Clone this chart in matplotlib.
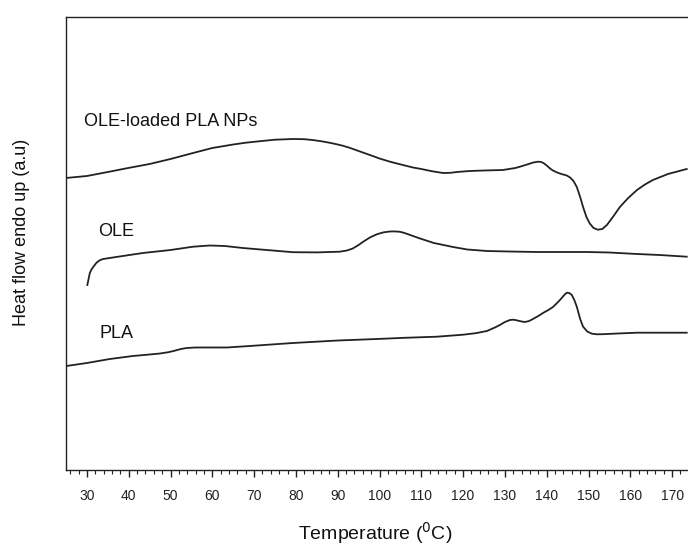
import matplotlib
matplotlib.use("Agg")
import matplotlib.pyplot as plt
from matplotlib.ticker import MultipleLocator

plt.rcParams['font.family'] = ['Liberation Sans', 'DejaVu Sans']

# OLE-loaded PLA NPs (temperature, heat flow a.u.)
t_np = [25.0, 30, 35, 39.5, 45, 50, 55.4, 60, 65, 68, 71.4, 75, 79.3, 82, 84, 86, 88, 90, 91.2, 93,
        95, 97.7, 100, 102.5, 105.6, 108, 110, 112.5, 115.2, 117, 118.5, 121.6, 125, 129.5, 132.5,
        134, 135.3, 136.8, 137.9, 138.7, 139.4, 140, 140.8, 141.5, 142.5, 143.5, 144.8, 145.6,
        146.4, 147.2, 148, 148.7, 149.5, 150.3, 151.2, 152.2, 153.3, 154.4, 156, 157.5, 159.5,
        161.6, 163.5, 165.4, 169, 173.5]
h_np = [292, 294, 298, 301.7, 306, 311, 317, 322, 325.5, 327.3, 328.8, 330.3, 331, 330.8, 330, 328.8,
        327.3, 325.5, 324.3, 322, 319, 315, 311.5, 308.3, 305, 302.5, 301, 298.8, 297, 297.2, 298, 299, 299.5,
        300, 302, 303.8, 305.5, 307.5, 308.3, 308, 306.5, 304.5, 301.5, 299.5, 297.5, 296, 294.5, 292.5,
        289, 283, 273, 263, 253, 246.5, 242, 240.3, 241, 245, 254, 263, 272,
        280, 285.5, 290, 296, 301]

# OLE
t_ole = [30.1, 30.4, 30.7, 31.1, 31.5, 32.3, 33.1, 33.9, 37, 43.4, 50, 55.4, 59.4, 63, 67.3, 73,
         79.3, 85, 90.5, 92.2, 93.6, 95, 96, 97.7, 99.4, 101, 102.5, 103.7, 104.9, 106, 107,
         109.7, 113, 117.6, 121, 125.7, 131, 137.7, 143, 149.6, 155, 161.6, 167, 173.5]
h_ole = [185, 191, 197, 200.5, 203, 207.3, 209.8, 211, 213, 217, 220, 223.3, 224.5, 224, 222, 220,
         217.8, 217.6, 218.3, 219.5, 221.5, 225, 228, 232.5, 235.8, 237.7, 238.5, 238.6, 238.2, 237, 235.5,
         231.5, 227, 223, 220.5, 219, 218.5, 218, 218, 218, 217.5, 216, 215, 213.3]

# PLA
t_pla = [25.1, 30, 35.5, 41, 45, 47.5, 49.5, 51, 52.5, 53.9, 56, 58, 63.5, 70, 79.3, 90, 99.4,
         106, 113.7, 120, 123, 125.7, 127.5, 128.8, 130, 131.2, 132.1, 132.9, 134, 134.8, 135.8,
         136.7, 138, 139.1, 140.4, 141.5, 142.6, 143.6, 144.3, 144.8, 145.4, 146, 146.6, 147.2,
         148, 148.7, 149.7, 150.8, 152, 153.4, 157, 161.6, 167, 173.5]
h_pla = [104, 107, 111, 114, 115.5, 116.5, 117.8, 119.3, 121, 122, 122.5, 122.5, 122.5, 124.3, 127,
         129.5, 131, 132.2, 133.3, 135.3, 136.8, 139, 142.3, 145, 148, 150, 150.3, 149.6, 148.5,
         148, 149, 151, 154, 157, 160, 163, 167.5, 172, 175.5, 177.3, 177, 175, 170, 163.3, 151,
         143.3, 138.5, 136.3, 135.7, 135.8, 136.5, 137.3, 137.3, 137.3]

series_labels = ["OLE-loaded PLA NPs", "OLE", "PLA"]
x_ticks = list(range(30, 171, 10))

fig = plt.figure(figsize=(6.88, 5.47), dpi=100)
ax = fig.add_axes([66/688, 77/547, (688-66)/688, (470-17)/547])

lc = '#222222'
for t, h in [(t_np, h_np), (t_ole, h_ole), (t_pla, h_pla)]:
    ax.plot(t, h, color=lc, lw=1.3, solid_joinstyle='round')

ax.set_xlim(25, 173.8)
ax.set_ylim(0, 453)
ax.set_xticks(x_ticks)
ax.xaxis.set_minor_locator(MultipleLocator(2))
ax.set_yticks([])
ax.tick_params(axis='x', which='major', direction='out', length=5, width=1, labelsize=10, pad=9,
               colors='#222222')
ax.tick_params(axis='x', which='minor', direction='out', length=3, width=0.8, colors='#222222')
ax.spines['right'].set_visible(False)
for s in ['left', 'top', 'bottom']:
    ax.spines[s].set_linewidth(1.0)
    ax.spines[s].set_color('#222222')

ax.text(29.3, 348, series_labels[0], fontsize=13, va='center', ha='left', color='#111111')
ax.text(32.8, 238, series_labels[1], fontsize=13, va='center', ha='left', color='#111111')
ax.text(33.0, 136, series_labels[2], fontsize=13, va='center', ha='left', color='#111111')

fig.text(375/688, 1 - 533/547, "Temperature ($^{0}$C)", fontsize=14, ha='center', va='center',
         color='#111111')
fig.text(22/688, 1 - 232/547, "Heat flow endo up (a.u)", fontsize=13, ha='center', va='center',
         rotation=90, color='#111111')

fig.savefig("out.png", dpi=100)
